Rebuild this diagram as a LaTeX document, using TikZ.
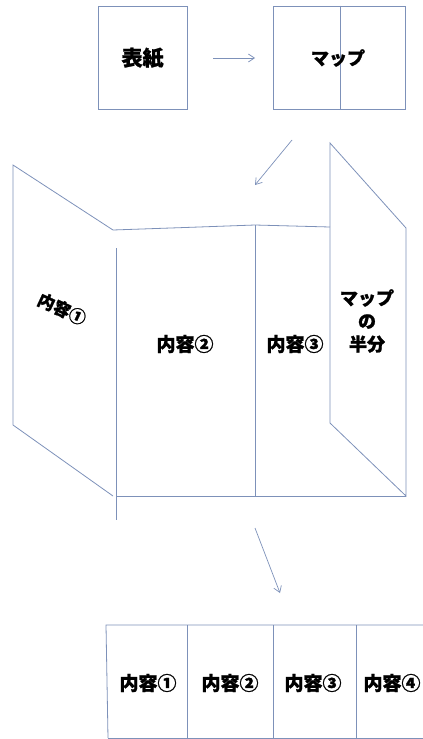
\documentclass[tikz,border=0pt]{standalone}
\usepackage{fontspec}
\newfontfamily\cjk[BoldFeatures={FakeBold=1.2}]{Noto Sans CJK JP}
\usetikzlibrary{arrows.meta}
\definecolor{edge}{RGB}{125,145,185}
\tikzset{
  panel/.style={draw=edge, line width=0.8pt},
  conn/.style={draw=edge, line width=0.7pt, -{Straight Barb[length=6pt,width=8pt]}},
  lbl/.style={font=\cjk\bfseries\fontsize{19}{22}\selectfont, text=black, inner sep=0pt},
}
\begin{document}
\begin{tikzpicture}[x=1pt,y=-1pt]
\useasboundingbox (0,0) rectangle (423,739);
% top row
\node[panel, minimum width=89pt, minimum height=103pt, inner sep=0pt] (cover) at (142.5,57.5) {};
\node[lbl, font=\cjk\bfseries\fontsize{21}{24}\selectfont] (coverlbl) at (142.5,58) {表紙};
\node[panel, minimum width=132pt, minimum height=103pt, inner sep=0pt] (map) at (339,57.5) {};
\draw[panel] (map.north) ++(1,0) coordinate (mt) -- (mt |- map.south);
\node[lbl, font=\cjk\bfseries\fontsize{18}{22}\selectfont] (maplbl) at (338,58) {マップ};
\coordinate (a1s) at (213,58);
\coordinate (a1e) at (255,58);
\draw[conn] (a1s) -- (a1e);
\coordinate (a2s) at (292,140);
\coordinate (a2e) at (255,185);
\draw[conn] (a2s) -- (a2e);
% 3D folded leaflet
\coordinate (p1a) at (13,165);
\coordinate (p1b) at (113,230);
\coordinate (p1c) at (113,496);
\coordinate (p1d) at (13,425);
\draw[panel] (p1b) -- (p1a) -- (p1d) -- (p1c);
\coordinate (f1t) at (116,248);
\coordinate (f1b) at (116,520);
\draw[panel] (f1t) -- (f1b);
\coordinate (t2) at (255,225);
\coordinate (t3) at (330,227);
\draw[panel] (p1b) -- (185,227.5) -- (t2) -- (t3);
\coordinate (b2) at (255,497);
\draw[panel] (t2) -- (b2);
\coordinate (bl) at (116,496);
\coordinate (br) at (406,496);
\draw[panel] (bl) -- (br);
\coordinate (r1) at (330,143);
\coordinate (r2) at (406,228);
\coordinate (r4) at (330,423);
\draw[panel] (r4) -- (r1) -- (r2) -- (br) -- (r4);
\node[lbl, rotate=-25, font=\cjk\bfseries\fontsize{17}{20}\selectfont] (c1) at (62,309) {内容①};
\node[lbl] (c2) at (185,344) {内容②};
\node[lbl] (c3) at (295,344) {内容③};
\node[lbl, align=center, font=\cjk\bfseries\fontsize{18}{23}\selectfont] (half) at (367,321) {マップ\\の\\半分};
% arrow down
\coordinate (a3s) at (255,528);
\coordinate (a3e) at (280,593);
\draw[conn] (a3s) -- (a3e);
% bottom strip
\coordinate (s0t) at (106,625);
\coordinate (s0b) at (108,738);
\draw[panel] (s0b) -- (s0t) -- (423,625);
\draw[panel] (s0b) -- (423,738);
\foreach \x/\n in {187/d1,273/d2,356/d3} {
  \draw[panel] (\x,625) coordinate (\n t) -- (\x,738) coordinate (\n b);
}
\node[lbl] (s1) at (148,683) {内容①};
\node[lbl] (s2) at (230,683) {内容②};
\node[lbl] (s3) at (313,683) {内容③};
\node[lbl] (s4) at (392,683) {内容④};
\end{tikzpicture}
\end{document}
